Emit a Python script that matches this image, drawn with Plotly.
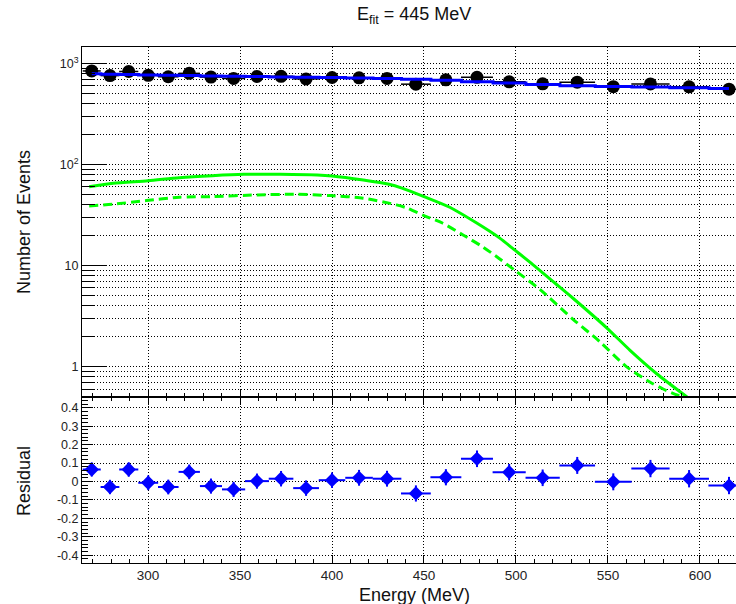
import plotly.graph_objects as go

# ---------------- data ----------------
energy = [269.4, 279.3, 289.5, 300.1, 311.0, 322.4, 334.2, 346.5, 359.2, 372.3, 385.9, 400.0,
          414.7, 429.9, 445.6, 461.9, 478.8, 496.3, 514.5, 533.3, 552.9, 573.1, 594.1, 615.8]
half_width = [4.9, 5.1, 5.2, 5.4, 5.6, 5.8, 6.0, 6.3, 6.5, 6.7, 7.0, 7.2,
              7.5, 7.8, 8.1, 8.4, 8.7, 9.0, 9.3, 9.7, 10.0, 10.4, 10.8, 11.2]
data_counts = [845, 760, 835, 765, 740, 800, 735, 712, 745, 748, 705, 728,
               722, 712, 625, 690, 730, 660, 630, 655, 590, 628, 588, 558]
fit_counts = [792, 786, 780, 772, 767, 762, 755, 750, 745, 738, 733, 727,
              719, 711, 700, 684, 662, 642, 620, 603, 592, 586, 577, 566]
residual = [0.065, -0.030, 0.065, -0.007, -0.030, 0.052, -0.025, -0.043, 0.002, 0.015, -0.036, 0.007,
            0.020, 0.015, -0.065, 0.023, 0.123, 0.050, 0.020, 0.087, -0.002, 0.070, 0.015, -0.022]
residual_err = [0.038, 0.039, 0.039, 0.040, 0.040, 0.040, 0.041, 0.041, 0.041, 0.042, 0.042, 0.042,
                0.043, 0.043, 0.044, 0.044, 0.045, 0.045, 0.045, 0.046, 0.046, 0.047, 0.047, 0.047]

sig_energy = [268, 281, 300, 317, 335, 352, 372, 392, 400, 417, 431, 438, 450, 464, 478,
              491, 499, 509, 521, 531, 549, 562, 576.5, 593]
sig_solid = [60.4, 65.3, 69.2, 74.1, 77.6, 80.0, 80.0, 78.8, 77.1, 70.3, 63.8, 58.5, 48.2, 37.8, 26.8,
             18.8, 14.4, 10.3, 6.76, 4.75, 2.45, 1.45, 0.85, 0.5]
sig2_energy = [268, 281, 299, 317, 335, 359, 381, 399, 417, 435, 441, 450, 460, 471, 482,
               491, 500, 513, 531, 545.5, 560, 573, 580, 588, 592]
sig_dashed = [39.0, 40.5, 44.0, 47.5, 48.2, 50.1, 50.8, 49.3, 46.5, 39.9, 37.0, 31.3, 26.4, 20.2, 15.3,
              11.7, 8.8, 5.81, 2.94, 1.77, 1.0, 0.70, 0.60, 0.52, 0.5]

x_major = [300, 350, 400, 450, 500, 550, 600]
logy_ticks = [1, 10, 100, 1000]
logy_labels = ["1", "10", "10<sup>2</sup>", "10<sup>3</sup>"]
logy_minor = [0.5, 0.6, 0.7, 0.8, 0.9, 2, 3, 4, 5, 6, 7, 8, 9, 20, 30, 40, 50, 60, 70, 80, 90,
              200, 300, 400, 500, 600, 700, 800, 900]
res_ticks = [-0.4, -0.3, -0.2, -0.1, 0, 0.1, 0.2, 0.3, 0.4]
res_labels = ["-0.4", "-0.3", "-0.2", "-0.1", "0", "0.1", "0.2", "0.3", "0.4"]

FONT = "Liberation Sans, Arial, Helvetica, sans-serif"
DOTS = "1.3px,1.7px"
GRID = dict(showgrid=True, gridcolor="black", gridwidth=1.3, griddash=DOTS)

fig = go.Figure()
fig.add_trace(go.Scatter(x=sig_energy, y=sig_solid, mode="lines",
                         line=dict(color="#00ff00", width=3, shape="spline", smoothing=0.7),
                         xaxis="x", yaxis="y"))
fig.add_trace(go.Scatter(x=sig2_energy, y=sig_dashed, mode="lines",
                         line=dict(color="#00ff00", width=3, dash="9px,5px", shape="spline", smoothing=0.7),
                         xaxis="x", yaxis="y"))
fig.add_trace(go.Scatter(x=energy, y=data_counts, mode="markers",
                         marker=dict(color="black", size=13),
                         error_x=dict(type="data", array=half_width, color="black", thickness=1.5, width=0),
                         xaxis="x", yaxis="y"))
fig.add_trace(go.Scatter(x=energy, y=fit_counts, mode="lines",
                         line=dict(color="#0000ff", width=3, shape="hvh"), xaxis="x", yaxis="y"))
fig.add_trace(go.Scatter(x=energy, y=residual, mode="markers",
                         marker=dict(symbol="diamond", color="#0000ff", size=11),
                         error_x=dict(type="data", array=half_width, color="#0000ff", thickness=2, width=0),
                         error_y=dict(type="data", array=residual_err, color="#0000ff", thickness=2, width=0),
                         xaxis="x2", yaxis="y2"))

split = (563 - 397) / 516.0
xr = [264.1, 619.6]

fig.update_layout(
    width=736, height=604,
    margin=dict(l=82, r=0, t=47, b=41),
    paper_bgcolor="white", plot_bgcolor="white",
    showlegend=False,
    font=dict(family=FONT, color="#222"),
    xaxis=dict(domain=[0, 1], anchor="y", range=xr, showticklabels=False,
               tickmode="array", tickvals=x_major, ticks="inside", ticklen=8, tickcolor="black",
               minor=dict(ticks="inside", ticklen=4, dtick=10, tick0=300, tickcolor="black", showgrid=False),
               showline=True, linecolor="black", linewidth=1, mirror=True, zeroline=False, **GRID),
    yaxis=dict(domain=[split, 1], anchor="x", type="log", range=[-0.301, 3.164],
               tickmode="array", tickvals=logy_ticks, ticktext=logy_labels,
               ticks="inside", ticklen=24, tickcolor="black", tickfont=dict(size=12.5, family=FONT),
               minor=dict(ticks="inside", ticklen=13, tickmode="array", tickvals=logy_minor,
                          tickcolor="black", showgrid=True, gridcolor="black", gridwidth=1.3, griddash=DOTS),
               showline=True, linecolor="black", linewidth=1, mirror=True, zeroline=False, **GRID),
    xaxis2=dict(domain=[0, 1], anchor="y2", range=xr, matches="x",
                tickmode="array", tickvals=x_major, ticks="inside", ticklen=8, tickcolor="black",
                tickfont=dict(size=13.5, family=FONT),
                minor=dict(ticks="inside", ticklen=4, dtick=10, tick0=300, tickcolor="black", showgrid=False),
                showline=True, linecolor="black", linewidth=1, mirror="ticks", zeroline=False, **GRID),
    yaxis2=dict(domain=[0, split], anchor="x2", range=[-0.442, 0.458],
                tickmode="array", tickvals=res_ticks, ticktext=res_labels,
                ticks="inside", ticklen=11, tickcolor="black", tickfont=dict(size=12.5, family=FONT),
                minor=dict(ticks="inside", ticklen=6, dtick=0.02, tick0=0, tickcolor="black", showgrid=False),
                showline=True, linecolor="black", linewidth=1, mirror=True, zeroline=False, **GRID),
    annotations=[
        dict(text="E<sub>fit</sub> = 445 MeV", x=(414 - 82) / 654, y=1 + (47 - 16) / 516,
             xref="paper", yref="paper", xanchor="center", yanchor="middle", showarrow=False,
             font=dict(size=18, family=FONT, color="#111")),
        dict(text="Number of Events", x=(24 - 82) / 654, y=(563 - 222) / 516, textangle=-90,
             xref="paper", yref="paper", xanchor="center", yanchor="middle", showarrow=False,
             font=dict(size=18, family=FONT, color="#111")),
        dict(text="Residual", x=(24 - 82) / 654, y=(563 - 481) / 516, textangle=-90,
             xref="paper", yref="paper", xanchor="center", yanchor="middle", showarrow=False,
             font=dict(size=18, family=FONT, color="#111")),
        dict(text="Energy (MeV)", x=(415 - 82) / 654, y=(563 - 595) / 516,
             xref="paper", yref="paper", xanchor="center", yanchor="middle", showarrow=False,
             font=dict(size=18, family=FONT, color="#111")),
    ],
)

fig.write_html("out.html")
